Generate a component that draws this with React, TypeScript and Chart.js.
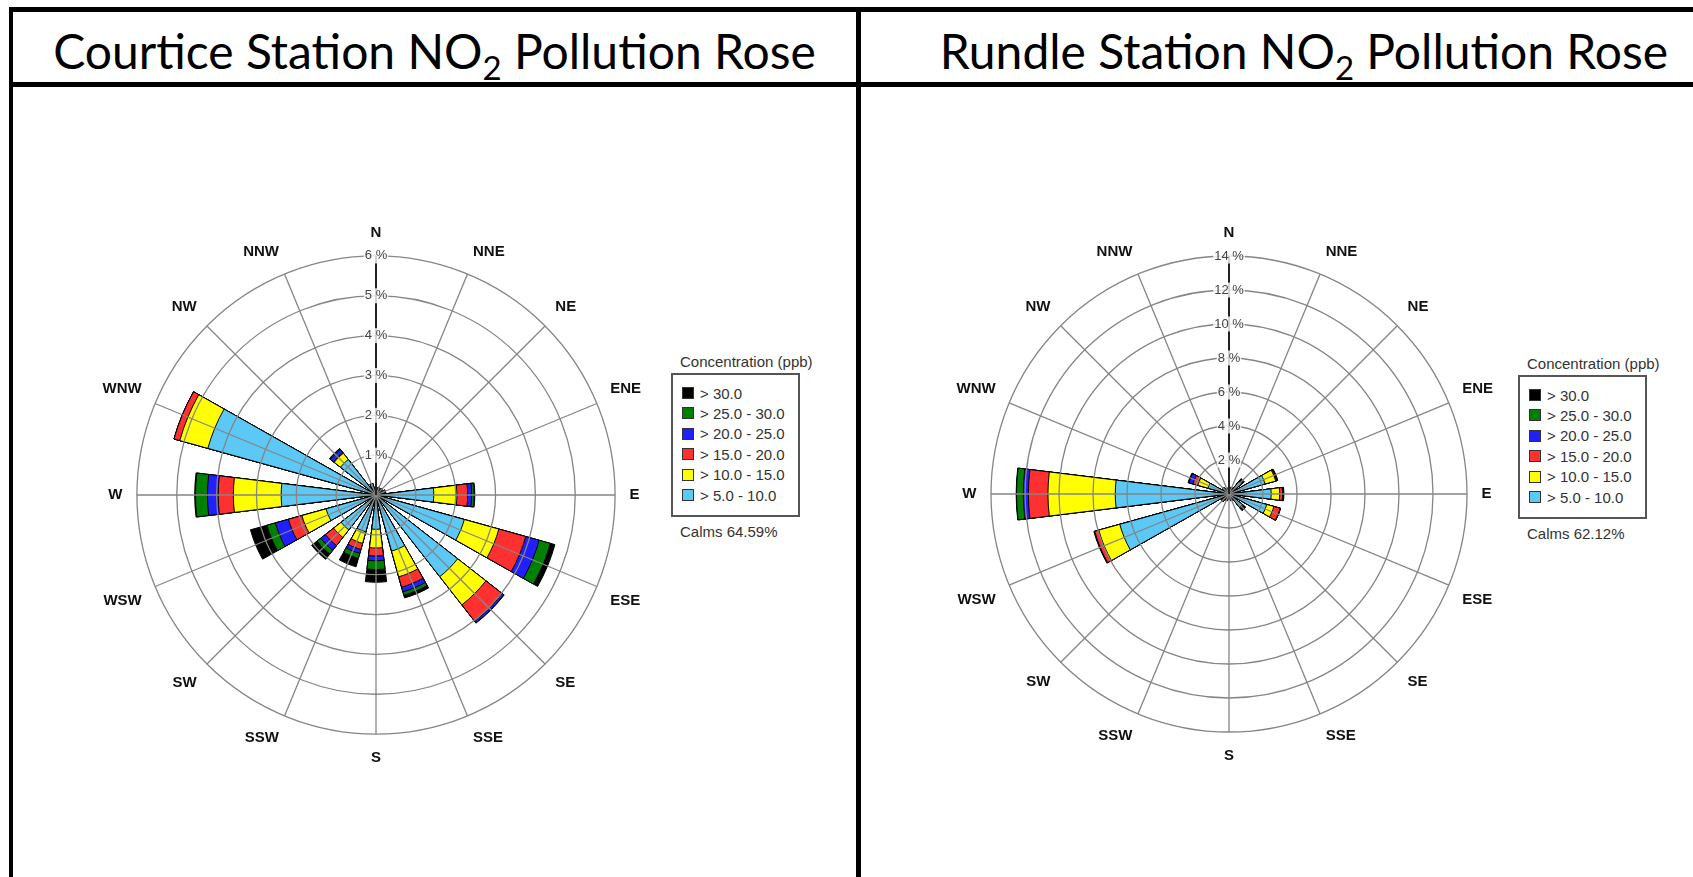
import React, { useEffect, useRef } from 'react';
import { Chart, registerables } from 'chart.js';

Chart.register(...registerables);

// ---------- data ----------
const directions = ['N', 'NNE', 'NE', 'ENE', 'E', 'ESE', 'SE', 'SSE', 'S', 'SSW', 'SW', 'WSW', 'W', 'WNW', 'NW', 'NNW'];

// legend labels, from highest to lowest concentration bin
const binLabels = ['> 30.0', '> 25.0 - 30.0', '> 20.0 - 25.0', '> 15.0 - 20.0', '> 10.0 - 15.0', '> 5.0 - 10.0'];
const binColors = ['#000000', '#008000', '#1f1fff', '#ff3030', '#ffff00', '#5cc8f6'];

// Courtice station: frequency (%) per direction (N..NNW) for each concentration bin
const courtice5to10 = [0.15, 0.2, 0.2, 0.25, 1.45, 2.3, 2.6, 1.46, 0.86, 0.96, 1.11, 1.3, 2.38, 4.38, 1.13, 0.3];
const courtice10to15 = [0, 0, 0, 0, 0.58, 0.9, 0.9, 0.67, 0.47, 0.3, 0.24, 0.63, 1.2, 0.73, 0.2, 0];
const courtice15to20 = [0, 0, 0, 0, 0.27, 0.7, 0.52, 0.27, 0.2, 0.16, 0.26, 0.35, 0.38, 0.15, 0.02, 0];
const courtice20to25 = [0, 0, 0, 0, 0.1, 0.35, 0.05, 0.12, 0.12, 0.1, 0.15, 0.34, 0.27, 0, 0.1, 0];
const courtice25to30 = [0, 0, 0, 0, 0.06, 0.29, 0, 0.09, 0.22, 0.13, 0.12, 0.22, 0.3, 0, 0.02, 0];
const courticeOver30 = [0, 0, 0, 0, 0.02, 0.12, 0.01, 0.07, 0.32, 0.22, 0.17, 0.43, 0.02, 0, 0.01, 0];
const courticeCalms = '64.59%';

// Rundle station
const rundle5to10 = [0.3, 0.4, 0.9, 2.2, 2.48, 2.3, 1.0, 0.4, 0.3, 0.4, 0.45, 6.67, 6.69, 1.28, 0.5, 0.35];
const rundle10to15 = [0, 0, 0.05, 0.65, 0.5, 0.44, 0.05, 0, 0, 0, 0.05, 1.28, 3.96, 0.62, 0, 0];
const rundle15to20 = [0, 0, 0.02, 0.05, 0.17, 0.38, 0.03, 0, 0, 0, 0.08, 0.25, 1.15, 0.3, 0, 0];
const rundle20to25 = [0, 0, 0.01, 0, 0.03, 0.02, 0.01, 0, 0, 0, 0, 0, 0.3, 0.25, 0, 0];
const rundle25to30 = [0, 0, 0.02, 0.02, 0.02, 0, 0.01, 0, 0, 0, 0, 0.02, 0.4, 0, 0, 0];
const rundleOver30 = [0, 0, 0.15, 0.06, 0.03, 0.01, 0.15, 0, 0, 0, 0, 0.03, 0.02, 0.05, 0, 0];
const rundleCalms = '62.12%';

const courticeTicks = { max: 6, step: 1 };
const rundleTicks = { max: 14, step: 2 };

// ---------- helpers ----------
const BAR_ANGLE = 14;
const GAP_ANGLE = 22.5 - BAR_ANGLE;

// Turn 16 direction values into arcs: half N bar, (gap, bar) x 15, gap, half N bar
function expand(values: number[]) {
  const data: number[] = [];
  const angles: number[] = [];
  const borders: number[] = [];
  data.push(values[0]); angles.push(BAR_ANGLE / 2); borders.push(1);
  for (let d = 1; d < 16; d++) {
    data.push(0); angles.push(GAP_ANGLE); borders.push(0);
    data.push(values[d]); angles.push(BAR_ANGLE); borders.push(1);
  }
  data.push(0); angles.push(GAP_ANGLE); borders.push(0);
  data.push(values[0]); angles.push(BAR_ANGLE / 2); borders.push(1);
  return { data, angles, borders };
}

const FONT = "'Liberation Sans', Arial, sans-serif";

type RoseProps = {
  bins: number[][]; // lowest bin first
  max: number;
  step: number;
  left: number;
  top: number;
  size: number;
};

function Rose({ bins, max, step, left, top, size }: RoseProps) {
  const ref = useRef<HTMLCanvasElement>(null);
  useEffect(() => {
    if (!ref.current) return;
    const colorsLowFirst = [...binColors].reverse();
    let running = new Array(16).fill(0);
    const datasets = bins.map((bin, k) => {
      running = running.map((v: number, i: number) => v + bin[i]);
      const { data, angles, borders } = expand(running);
      return {
        label: binLabels[binLabels.length - 1 - k],
        data,
        angle: angles,
        backgroundColor: colorsLowFirst[k],
        borderColor: '#000000',
        borderWidth: borders,
        borderAlign: 'center' as const,
      };
    });
    const chart = new Chart(ref.current, {
      type: 'polarArea',
      data: { labels: directions, datasets },
      options: {
        responsive: false,
        animation: false,
        devicePixelRatio: 1,
        layout: { padding: 0 },
        plugins: { legend: { display: false }, tooltip: { enabled: false } },
        scales: {
          r: {
            type: 'radialLinear',
            min: 0,
            max,
            startAngle: 0,
            ticks: {
              z: 1,
              stepSize: step,
              callback: (v: any) => `${v} %`,
              color: '#444',
              font: { family: FONT, size: 13 },
              showLabelBackdrop: true,
              backdropColor: 'rgba(255,255,255,0.8)',
              backdropPadding: 1,
            },
            grid: { z: 1, circular: true, color: '#858585', lineWidth: 1.3 },
            angleLines: {
              display: true,
              color: (ctx: any) => (ctx.index === 0 ? '#222' : '#858585'),
              lineWidth: (ctx: any) => (ctx.index === 0 ? 2 : 1.3),
            },
            pointLabels: {
              display: true,
              color: '#111',
              padding: 7,
              font: { family: FONT, size: 15, weight: 'bold' },
            },
          },
        },
      } as any,
    });
    return () => chart.destroy();
  }, []);
  return (
    <canvas
      ref={ref}
      width={size}
      height={size}
      style={{ position: 'absolute', left, top, width: size, height: size }}
    />
  );
}

function Legend({ left, top, calms }: { left: number; top: number; calms: string }) {
  return (
    <div style={{ position: 'absolute', left, top, fontFamily: FONT, fontSize: 15, color: '#333' }}>
      <div style={{ position: 'absolute', left: 9, top: -20, whiteSpace: 'nowrap', lineHeight: '17px' }}>
        Concentration (ppb)
      </div>
      <div
        style={{
          position: 'absolute',
          left: 0,
          top: 0,
          width: 125,
          height: 140,
          border: '2px solid #555',
          boxSizing: 'content-box',
        }}
      >
        {binLabels.map((lab, i) => (
          <div
            key={lab}
            style={{
              position: 'absolute',
              left: 9,
              top: 18 + i * 20.4 - 8.5,
              height: 17,
              lineHeight: '17px',
              whiteSpace: 'nowrap',
              display: 'flex',
              alignItems: 'center',
            }}
          >
            <span
              style={{
                display: 'inline-block',
                width: 10,
                height: 10,
                background: binColors[i],
                border: '1px solid #333',
                marginRight: 6,
              }}
            />
            <span>{lab}</span>
          </div>
        ))}
      </div>
      <div style={{ position: 'absolute', left: 9, top: 150, whiteSpace: 'nowrap', lineHeight: '17px' }}>
        Calms {calms}
      </div>
    </div>
  );
}

const titleStyle: React.CSSProperties = {
  position: 'absolute',
  top: 24,
  fontFamily: "Lato, 'Open Sans', sans-serif",
  fontSize: 48,
  lineHeight: '54px',
  color: '#000',
  textAlign: 'center',
  whiteSpace: 'nowrap',
};

export default function App() {
  const line = (s: React.CSSProperties) => <div style={{ position: 'absolute', background: '#000', ...s }} />;
  return (
    <div
      style={{
        position: 'fixed',
        left: 0,
        top: 0,
        width: 1693,
        height: 877,
        background: '#fff',
        overflow: 'hidden',
      }}
    >
      {line({ left: 9, top: 7, width: 1684, height: 5 })}
      {line({ left: 9, top: 82, width: 1684, height: 5 })}
      {line({ left: 9, top: 7, width: 4, height: 870 })}
      {line({ left: 856, top: 7, width: 5, height: 870 })}

      <div style={{ ...titleStyle, left: 13, width: 843 }}>
        Courtice Station NO<sub style={{ fontSize: 33 }}>2</sub> Pollution Rose
      </div>
      <div style={{ ...titleStyle, left: 862, width: 884 }}>
        Rundle Station NO<sub style={{ fontSize: 33 }}>2</sub> Pollution Rose
      </div>

      <Rose
        bins={[courtice5to10, courtice10to15, courtice15to20, courtice20to25, courtice25to30, courticeOver30]}
        max={courticeTicks.max}
        step={courticeTicks.step}
        left={98}
        top={221}
        size={548}
      />
      <Legend left={671} top={373} calms={courticeCalms} />

      <Rose
        bins={[rundle5to10, rundle10to15, rundle15to20, rundle20to25, rundle25to30, rundleOver30]}
        max={rundleTicks.max}
        step={rundleTicks.step}
        left={952}
        top={221}
        size={546}
      />
      <Legend left={1518} top={375} calms={rundleCalms} />
    </div>
  );
}
